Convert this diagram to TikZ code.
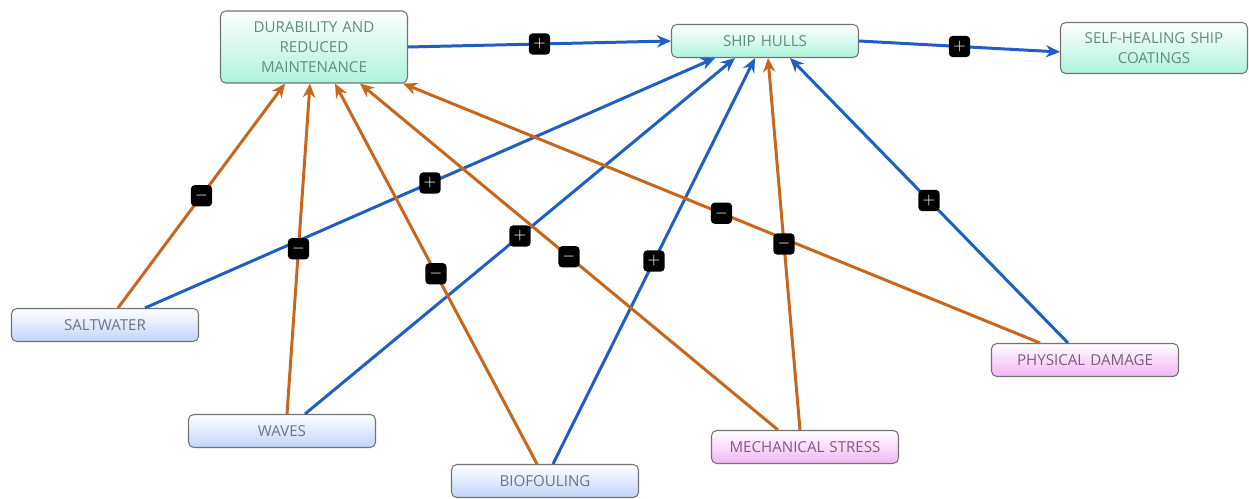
\documentclass[tikz,border=0pt]{standalone}
\usepackage{fontspec}
\setmainfont{Open Sans}
\usepackage{tikz}
\usetikzlibrary{arrows.meta, calc}

\definecolor{linkblue}{HTML}{1E5FC0}
\definecolor{linkorange}{HTML}{C8661E}
\definecolor{mintfill}{HTML}{AEF3DC}
\definecolor{mintink}{HTML}{5E8E7E}
\definecolor{bluefill}{HTML}{C2D4FA}
\definecolor{blueink}{HTML}{6C7486}
\definecolor{pinkfill}{HTML}{F3B6F3}
\definecolor{pinkink}{HTML}{7E5C82}

\begin{document}
\begin{tikzpicture}[
    x=0.02cm, y=-0.02cm,
    concept/.style={rectangle, rounded corners=3pt, draw=black!55, line width=0.6pt, minimum width=3.74cm, minimum height=0.66cm, inner sep=1pt, text width=3.6cm, align=center, font=\fontsize{8.6}{11.4}\selectfont},
    goal/.style={concept, top color=white, bottom color=mintfill, text=mintink},
    driver/.style={concept, top color=white, bottom color=bluefill, text=blueink},
    stressor/.style={concept, top color=white, bottom color=pinkfill, text=pinkink},
    poslink/.style={line width=1.7pt, draw=linkblue, -{Stealth[length=8pt,width=7pt]}},
    neglink/.style={line width=1.7pt, draw=linkorange, -{Stealth[length=8pt,width=7pt]}},
    sign/.style={rectangle, rounded corners=2pt, fill=black, text=white, minimum size=12pt, inner sep=0pt, font=\bfseries\small},
]

    \useasboundingbox (0,0) rectangle (1249,499);

    % outcomes
    \node (durability) [goal, minimum height=1.44cm] at (314,47) {DURABILITY AND\\ REDUCED\\ MAINTENANCE};
    \node (hulls) [goal] at (765,41) {SHIP HULLS};
    \node (coatings) [goal, minimum height=1.02cm] at (1154,48) {SELF-HEALING SHIP\\ COATINGS};

    % environment
    \node (saltwater) [driver] at (105,325) {SALTWATER};
    \node (waves) [driver] at (282,431) {WAVES};
    \node (biofouling) [driver] at (545,481) {BIOFOULING};

    % damage
    \node (mechstress) [stressor] at (805,447) {MECHANICAL STRESS};
    \node (physdamage) [stressor] at (1085,360) {PHYSICAL DAMAGE};

    % positive links
    \draw [poslink] (durability.east) -- (hulls.west) coordinate[midway] (p1);
    \draw [poslink] (hulls.east) -- ([yshift=-0.08cm]coatings.west) coordinate[midway] (p2);
    \draw [poslink] ($(saltwater.north)+(40,0)$) -- ($(hulls.south)+(-50,0)$) coordinate[midway] (p3);
    \draw [poslink] ($(waves.north)+(23,0)$) -- ($(hulls.south)+(-30,0)$) coordinate[midway] (p4);
    \draw [poslink] ($(biofouling.north)+(8,0)$) -- ($(hulls.south)+(-10,0)$) coordinate[midway] (p5);
    \draw [poslink] ($(physdamage.north)+(-17,0)$) -- ($(hulls.south)+(25,0)$) coordinate[midway] (p6);

    % negative links
    \draw [neglink] ($(saltwater.north)+(13,0)$) -- ($(durability.south)+(-29,0)$) coordinate[midway] (n1);
    \draw [neglink] ($(waves.north)+(5,0)$) -- ($(durability.south)+(-4,0)$) coordinate[midway] (n2);
    \draw [neglink] ($(biofouling.north)+(-8,0)$) -- ($(durability.south)+(21,0)$) coordinate[midway] (n3);
    \draw [neglink] ($(mechstress.north)+(-27,0)$) -- ($(durability.south)+(46,0)$) coordinate[midway] (n4);
    \draw [neglink] ($(physdamage.north)+(-45,0)$) -- ($(durability.south)+(89,0)$) coordinate[midway] (n5);
    \draw [neglink] ($(mechstress.north)+(-5,0)$) -- ($(hulls.south)+(3,0)$) coordinate[midway] (n6);

    % signs
    \node (s1) [sign] at (p1) {$+$};
    \node (s2) [sign] at (p2) {$+$};
    \node (s3) [sign] at (p3) {$+$};
    \node (s4) [sign] at (p4) {$+$};
    \node (s5) [sign] at (p5) {$+$};
    \node (s6) [sign] at (p6) {$+$};
    \node (s7) [sign] at (n1) {$-$};
    \node (s8) [sign] at (n2) {$-$};
    \node (s9) [sign] at (n3) {$-$};
    \node (s10) [sign] at (n4) {$-$};
    \node (s11) [sign] at (n5) {$-$};
    \node (s12) [sign] at (n6) {$-$};

\end{tikzpicture}
\end{document}
